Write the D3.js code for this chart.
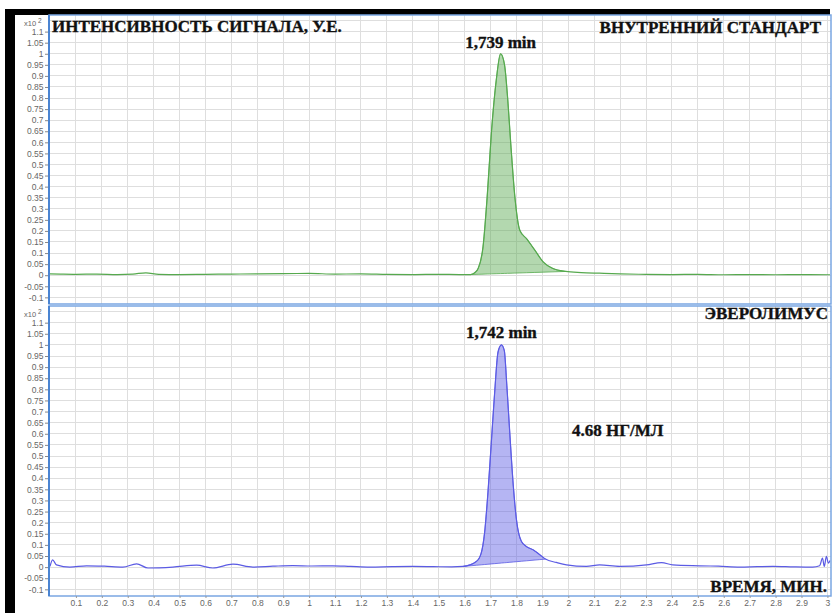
<!DOCTYPE html>
<html>
<head>
<meta charset="utf-8">
<script src="https://cdn.jsdelivr.net/npm/d3@7"></script>
<style>
  html, body { margin: 0; padding: 0; background: #fff; }
  svg { display: block; }
</style>
</head>
<body>
<svg id="chart" width="833" height="613"></svg>
<script>
// Internal standard trace (time, min / relative intensity, x10^2)
const isTime = [0, 0.04, 0.1, 0.18, 0.26, 0.32, 0.37, 0.42, 0.5, 0.6,
  0.7, 0.8, 0.9, 1.0, 1.1, 1.2, 1.3, 1.4, 1.5, 1.58,
  1.623, 1.64, 1.652, 1.671, 1.687, 1.704, 1.722, 1.739, 1.754, 1.766,
  1.779, 1.794, 1.813, 1.839, 1.871, 1.903, 1.941, 1.99, 2.05, 2.12,
  2.2, 2.3, 2.4, 2.5, 2.6, 2.7, 2.8, 2.9, 3.01];
const isSignal = [0.006, 0.005, 0.004, 0.005, 0.003, 0.005, 0.011, 0.004, 0.003, 0.004,
  0.005, 0.006, 0.007, 0.008, 0.005, 0.006, 0.004, 0.003, 0.004, 0.003,
  0.003, 0.012, 0.03, 0.128, 0.353, 0.654, 0.88, 1.0, 0.95, 0.8,
  0.578, 0.353, 0.203, 0.165, 0.113, 0.06, 0.03, 0.017, 0.012, 0.009,
  0.006, 0.004, 0.003, 0.004, 0.002, 0.003, 0.002, 0.003, 0.002];
const isPeakTime = 1.739;
const isIntegration = [1.623, 1.99];

// Everolimus trace
const evTime = [0, 0.01, 0.025, 0.077, 0.141, 0.21, 0.281, 0.334, 0.378, 0.474,
  0.566, 0.628, 0.706, 0.783, 0.86, 0.937, 1.01, 1.091, 1.16, 1.234,
  1.32, 1.4, 1.48, 1.55, 1.594, 1.645, 1.664, 1.677, 1.69, 1.703,
  1.716, 1.729, 1.742, 1.753, 1.763, 1.775, 1.788, 1.80, 1.819, 1.838,
  1.864, 1.89, 1.912, 1.954, 1.993, 2.07, 2.121, 2.199, 2.302, 2.36,
  2.403, 2.507, 2.58, 2.662, 2.73, 2.79, 2.87, 2.943, 2.97, 2.981,
  2.988, 2.996, 3.004, 3.01];
const evSignal = [0.003, 0.033, 0.01, 0.0, 0.006, 0.004, 0.0, 0.015, -0.004, 0.0,
  0.009, -0.004, 0.013, 0.0, 0.004, 0.007, 0.005, 0.006, 0.003, 0.0,
  0.002, 0.003, 0.002, 0.001, 0.003, 0.025, 0.063, 0.154, 0.335, 0.56,
  0.787, 0.968, 1.0, 0.975, 0.816, 0.59, 0.364, 0.214, 0.116, 0.093,
  0.078, 0.056, 0.036, 0.021, 0.01, 0.003, 0.01, 0.003, 0.01, 0.02,
  0.01, 0.006, 0.004, 0.0, 0.002, 0.003, 0.001, 0.0, 0.006, 0.04,
  0.003, 0.048, 0.018, 0.03];
const evPeakTime = 1.742;
const evIntegration = [1.594, 1.912];
const evConcentration = "4.68 НГ/МЛ";

// Axis ticks
const xTicks = [0.1, 0.2, 0.3, 0.4, 0.5, 0.6, 0.7, 0.8, 0.9, 1, 1.1, 1.2, 1.3, 1.4, 1.5,
  1.6, 1.7, 1.8, 1.9, 2, 2.1, 2.2, 2.3, 2.4, 2.5, 2.6, 2.7, 2.8, 2.9, 3];
const yTicks = [-0.1, -0.05, 0, 0.05, 0.1, 0.15, 0.2, 0.25, 0.3, 0.35, 0.4, 0.45, 0.5,
  0.55, 0.6, 0.65, 0.7, 0.75, 0.8, 0.85, 0.9, 0.95, 1, 1.05, 1.1];

const svg = d3.select("#chart");
const plotLeft = 49, plotRight = 831;
const x = d3.scaleLinear().domain([0, 3.01]).range([50, 830]);
const fmt = d => String(+d.toFixed(2)).replace("\u2212", "-");
const serif = "'Liberation Serif', 'Times New Roman', 'DejaVu Serif', serif";
const sans = "'Liberation Sans', Arial, sans-serif";

const panels = [
  { id: "is", top: 15, bottom: 304, time: isTime, signal: isSignal, peak: isPeakTime,
    range: isIntegration, line: "#56a94e", fill: "rgba(86,169,78,0.45)",
    peakLabel: "1,739 min", peakLabelY: 47.5 },
  { id: "ev", top: 306, bottom: 596, time: evTime, signal: evSignal, peak: evPeakTime,
    range: evIntegration, line: "#5b5be4", fill: "rgba(91,91,228,0.45)",
    peakLabel: "1,742 min", peakLabelY: 337.5 }
];

// Black frame bars
svg.append("rect").attr("x", 5).attr("y", 9).attr("width", 825).attr("height", 6).attr("fill", "#000");
svg.append("rect").attr("x", 5).attr("y", 9).attr("width", 10).attr("height", 604).attr("fill", "#000");

const boldText = (sel, size) => sel.attr("fill", "#111").attr("stroke", "#111")
  .attr("stroke-width", 0.35).style("font-family", serif)
  .style("font-weight", "bold").style("font-size", size + "px");

panels.forEach(p => {
  const y = d3.scaleLinear().domain([-0.13, 1.175]).range([p.bottom, p.top]);
  const g = svg.append("g");

  g.append("clipPath").attr("id", "clip-" + p.id)
    .append("rect").attr("x", plotLeft).attr("y", p.top)
    .attr("width", plotRight - plotLeft).attr("height", p.bottom - p.top);

  // grid
  const grid = g.append("g").attr("clip-path", `url(#clip-${p.id})`)
    .attr("stroke", "#dedede").attr("stroke-width", 1).attr("shape-rendering", "crispEdges");
  grid.selectAll("line.v").data(xTicks).join("line").attr("class", "v")
    .attr("x1", d => x(d)).attr("x2", d => x(d)).attr("y1", p.top).attr("y2", p.bottom);
  grid.selectAll("line.h").data(yTicks.concat([1.15])).join("line").attr("class", "h")
    .attr("x1", plotLeft).attr("x2", plotRight).attr("y1", d => y(d)).attr("y2", d => y(d));

  const data = p.time.map((t, i) => ({ t, v: p.signal[i] }));
  const plot = g.append("g").attr("clip-path", `url(#clip-${p.id})`);

  // integrated peak area with a straight baseline between start and end points
  const seg = data.filter(d => d.t >= p.range[0] - 1e-9 && d.t <= p.range[1] + 1e-9);
  const a = seg[0], b = seg[seg.length - 1];
  const base = t => a.v + (b.v - a.v) * (t - a.t) / (b.t - a.t);
  plot.append("path").datum(seg)
    .attr("fill", p.fill).attr("stroke", p.line).attr("stroke-width", 0.8)
    .attr("d", d3.area().curve(d3.curveMonotoneX)
      .x(d => x(d.t)).y1(d => y(d.v)).y0(d => y(base(d.t))));

  plot.append("path").datum(data)
    .attr("fill", "none").attr("stroke", p.line).attr("stroke-width", 1.2)
    .attr("d", d3.line().curve(d3.curveMonotoneX).x(d => x(d.t)).y(d => y(d.v)));

  // y axis
  const ya = g.append("g").attr("transform", `translate(${plotLeft},0)`)
    .call(d3.axisLeft(y).tickValues(yTicks).tickSize(4).tickPadding(1.5).tickFormat(fmt));
  ya.select(".domain").remove();
  ya.selectAll(".tick line").attr("stroke", "#888");
  ya.selectAll(".tick text").attr("fill", "#666").style("font", `8.5px ${sans}`);

  // multiplier label
  const mult = g.append("text").attr("x", 24).attr("y", y(1.1) - 5.5)
    .attr("fill", "#666").style("font", `7.5px ${sans}`);
  mult.append("tspan").text("x10");
  mult.append("tspan").attr("dx", 2).attr("dy", -3).style("font-size", "6.5px").text("2");

  // frame
  g.append("rect").attr("x", plotLeft).attr("y", p.top)
    .attr("width", plotRight - plotLeft).attr("height", p.bottom - p.top)
    .attr("fill", "none").attr("stroke", "#7aa6e2").attr("stroke-width", 1.5);
  g.append("line").attr("x1", plotLeft).attr("x2", plotLeft).attr("y1", p.top).attr("y2", p.bottom)
    .attr("stroke", "#4a84d2").attr("stroke-width", 2);

  // peak retention time label
  boldText(g.append("text").attr("x", x(p.peak)).attr("y", p.peakLabelY)
    .attr("text-anchor", "middle"), 17).text(p.peakLabel);
});

// x axis under the lower panel
const xa = svg.append("g").attr("transform", "translate(0,596)")
  .call(d3.axisBottom(x).tickValues(xTicks).tickSize(2).tickPadding(2).tickFormat(fmt));
xa.select(".domain").remove();
xa.selectAll(".tick line").attr("stroke", "#999");
xa.selectAll(".tick text").attr("fill", "#666").style("font", `8.5px ${sans}`);

// titles
const title = (txt, xx, yy, anchor) => boldText(svg.append("text").attr("x", xx).attr("y", yy)
  .attr("text-anchor", anchor), 17).text(txt);
title("ИНТЕНСИВНОСТЬ СИГНАЛА, У.Е.", 52, 32, "start");
title("ВНУТРЕННИЙ СТАНДАРТ", 821, 33, "end");
title("ЭВЕРОЛИМУС", 828, 318.5, "end");
title("ВРЕМЯ, МИН.", 827, 591.5, "end");
title(evConcentration, 572, 435.5, "start");
</script>
</body>
</html>
